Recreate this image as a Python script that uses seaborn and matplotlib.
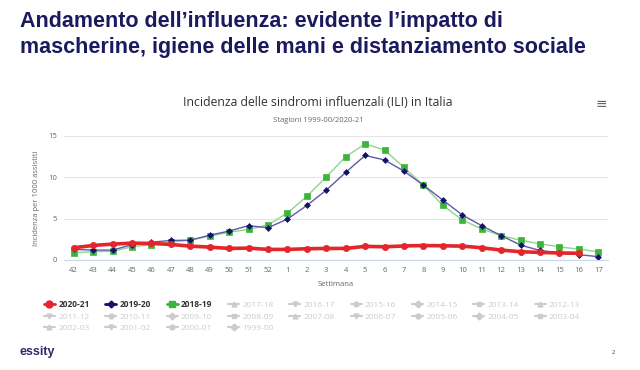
import numpy as np
import pandas as pd
import matplotlib
matplotlib.use("Agg")
import matplotlib.pyplot as plt
from matplotlib.lines import Line2D
import seaborn as sns

# Data (ILI per 1000 assistiti, by week)
weeks = ["42", "43", "44", "45", "46", "47", "48", "49", "50", "51", "52",
         "1", "2", "3", "4", "5", "6", "7", "8", "9", "10", "11", "12",
         "13", "14", "15", "16", "17"]
ili_2020_21 = [1.48, 1.76, 1.92, 2.04, 2.0, 1.88, 1.68, 1.56, 1.4, 1.44, 1.28,
               1.28, 1.36, 1.4, 1.4, 1.65, 1.6, 1.7, 1.75, 1.72, 1.68, 1.48, 1.2,
               1.0, 0.92, 0.85, 0.82, np.nan]
ili_2019_20 = [1.28, 1.2, 1.2, 1.85, 2.16, 2.36, 2.4, 3.0, 3.5, 4.16, 3.9,
               4.95, 6.6, 8.45, 10.6, 12.65, 12.1, 10.75, 9.05, 7.25, 5.45, 4.15, 2.95,
               1.8, 1.15, 0.85, 0.65, 0.4]
ili_2018_19 = [0.88, 1.0, 1.05, 1.6, 1.85, 2.16, 2.4, 2.9, 3.36, 3.7, 4.24,
               5.7, 7.7, 10.05, 12.5, 14.05, 13.3, 11.2, 9.05, 6.6, 4.85, 3.75, 2.95,
               2.4, 1.95, 1.6, 1.3, 1.0]
seasons = ["2020-21", "2019-20", "2018-19", "2017-18", "2016-17", "2015-16",
           "2014-15", "2013-14", "2012-13", "2011-12", "2010-11", "2009-10",
           "2008-09", "2007-08", "2006-07", "2005-06", "2004-05", "2003-04",
           "2002-03", "2001-02", "2000-01", "1999-00"]
y_ticks = [0, 5, 10, 15]

df = pd.DataFrame({
    "pos": np.arange(len(weeks)),
    "2020-21": ili_2020_21,
    "2019-20": ili_2019_20,
    "2018-19": ili_2018_19,
})

sns.set_theme(style="white")
plt.rcParams["font.family"] = ["Open Sans", "DejaVu Sans"]

fig = plt.figure(figsize=(6.4, 3.7), dpi=100)
ax = fig.add_axes([64 / 640, 1 - 260 / 370, 544 / 640, 124 / 370])

# style per visible series: (line colour, marker colour, marker, size, width)
styles = {
    "2020-21": ("#e3262b", "#e3262b", "o", 4.5, 2.6),
    "2019-20": ("#5b5ba8", "#12126b", "D", 3.0, 1.0),
    "2018-19": ("#8fd48f", "#3cb43c", "s", 4.0, 1.0),
}
for name in ["2018-19", "2019-20", "2020-21"]:
    lc, mc, mk, ms, lw = styles[name]
    sns.lineplot(data=df, x="pos", y=name, ax=ax, color=lc, lw=lw,
                 marker=mk, markersize=ms, markerfacecolor=mc,
                 markeredgecolor=mc, markeredgewidth=0.5, clip_on=False)

ax.set_xlim(-0.5, len(weeks) - 0.5)
ax.set_ylim(0, 15)
ax.set_xticks(df["pos"])
ax.set_xticklabels(weeks)
ax.set_yticks(y_ticks)
ax.tick_params(axis="both", length=0, labelsize=5.5, labelcolor="#666666", pad=5)
ax.grid(axis="y", color="#e6e6e6", lw=0.8)
ax.grid(axis="x", visible=False)
for s in ["top", "right", "left"]:
    ax.spines[s].set_visible(False)
ax.spines["bottom"].set_color("#ccd6eb")
ax.spines["bottom"].set_linewidth(0.8)

ax.set_ylabel("Incidenza per 1000 assistiti", fontsize=5.5, color="#666666")
ax.yaxis.set_label_coords(-(64 - 40) / 544, 0.5)
ax.set_xlabel("Settimana", fontsize=5.5, color="#666666")
ax.xaxis.set_label_coords(0.5, -(284 - 260) / 124)
ax.xaxis.label.set_va("center")

# legend (row-major order, matplotlib fills columns)
symbols = ["o", "D", "s", "^", "v"]
handles = []
for i, name in enumerate(seasons):
    if name in styles:
        lc, mc, mk, ms, lw = styles[name]
        h = Line2D([0], [0], color=mc, lw=2, marker=mk, markersize=ms + 0.5)
    else:
        h = Line2D([0], [0], color="#cccccc", lw=1.5, marker=symbols[i % 5], markersize=3.5)
    handles.append(h)
ncol = 9
order = [c + r * ncol for c in range(ncol) for r in range(3) if c + r * ncol < len(seasons)]
leg = fig.legend([handles[i] for i in order], [seasons[i] for i in order],
                 loc="upper left", bbox_to_anchor=(44 / 640, 1 - 300 / 370),
                 ncol=ncol, frameon=False, fontsize=6, handlelength=1.3,
                 handletextpad=0.4, columnspacing=1.9, labelspacing=0.45,
                 borderaxespad=0, borderpad=0)
for t in leg.get_texts():
    if t.get_text() in styles:
        t.set_color("#333333")
        t.set_fontweight("bold")
    else:
        t.set_color("#cccccc")

# chart titles
fig.text(318 / 640, 1 - 102 / 370, "Incidenza delle sindromi influenzali (ILI) in Italia",
         ha="center", va="center", fontsize=8.8, color="#333333")
fig.text(318 / 640, 1 - 121 / 370, "Stagioni 1999-00/2020-21",
         ha="center", va="center", fontsize=5.5, color="#666666")
fig.text(601 / 640, 1 - 104 / 370, "≡", ha="center", va="center",
         fontsize=10, color="#666666", family="DejaVu Sans")

# slide title
title_font = dict(family="Liberation Sans", fontweight="bold", fontsize=15.5, color="#1c1a5e")
fig.text(20 / 640, 1 - 22 / 370, "Andamento dell’influenza: evidente l’impatto di",
         ha="left", va="center", **title_font)
fig.text(20 / 640, 1 - 48 / 370, "mascherine, igiene delle mani e distanziamento sociale",
         ha="left", va="center", **title_font)

fig.text(20 / 640, 1 - 352 / 370, "essity", ha="left", va="center",
         fontsize=9, fontweight="bold", color="#2b2a6b", family="Liberation Sans")
fig.text(613 / 640, 1 - 353 / 370, "2", ha="center", va="center",
         fontsize=4, color="#333333")

fig.savefig("out.png", dpi=100)
